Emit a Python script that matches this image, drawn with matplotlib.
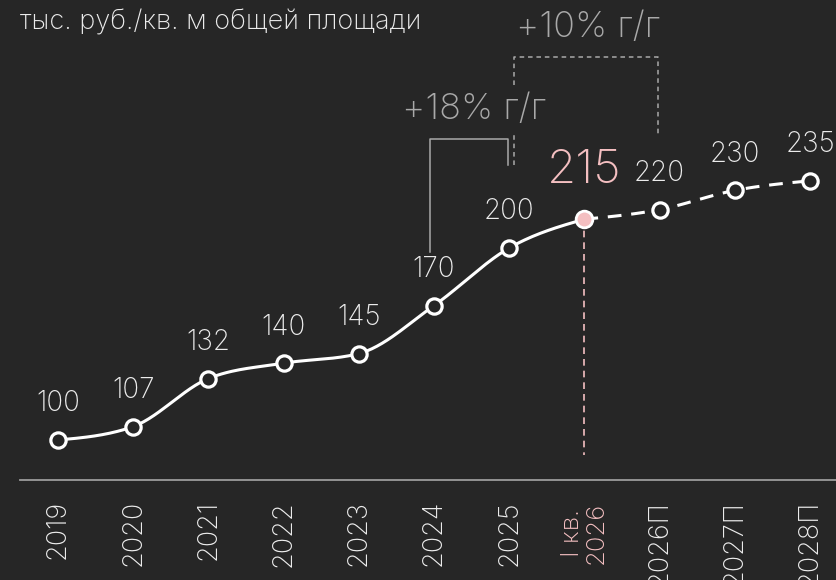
import numpy as np
import matplotlib
matplotlib.use("Agg")
import matplotlib.pyplot as plt

# data
labels = ["2019", "2020", "2021", "2022", "2023", "2024", "2025",
          "I кв.\n2026", "2026П", "2027П", "2028П"]
values = [100, 107, 132, 140, 145, 170, 200, 215, 220, 230, 235]
fact_end = 7          # index of "I кв. 2026" - last actual point
growth_labels = ["+18% г/г", "+10% г/г"]
subtitle = "тыс. руб./кв. м общей площади"

BG = "#262626"
FG = "#ececec"
GREY = "#a9a9a9"
PINK = "#f4bfc1"
FONT = ["Inter", "DejaVu Sans"]

plt.rcParams["font.family"] = FONT
plt.rcParams["font.weight"] = "light"


def monotone(xs, ys, n=30):
    # monotone cubic (like d3 curveMonotoneX)
    xs = np.asarray(xs, float)
    ys = np.asarray(ys, float)
    h = np.diff(xs)
    s = np.diff(ys) / h
    m = np.zeros(len(xs))
    for i in range(1, len(xs) - 1):
        p = (s[i - 1] * h[i] + s[i] * h[i - 1]) / (h[i - 1] + h[i])
        m[i] = (np.sign(s[i - 1]) + np.sign(s[i])) * min(abs(s[i - 1]), abs(s[i]), 0.5 * abs(p))
    m[0] = (3 * s[0] - m[1]) / 2
    m[-1] = (3 * s[-1] - m[-2]) / 2
    px, py = [], []
    for i in range(len(xs) - 1):
        t = np.linspace(0, 1, n)
        h00 = 2 * t**3 - 3 * t**2 + 1
        h10 = t**3 - 2 * t**2 + t
        h01 = -2 * t**3 + 3 * t**2
        h11 = t**3 - t**2
        px.extend(xs[i] + t * h[i])
        py.extend(h00 * ys[i] + h10 * h[i] * m[i] + h01 * ys[i + 1] + h11 * h[i] * m[i + 1])
    return np.array(px), np.array(py)


fig = plt.figure(figsize=(8.36, 5.8), dpi=100, facecolor=BG)
ax = fig.add_axes([0, 0, 1, 1], facecolor=BG)
ax.set_xlim(-0.771, 10.346)
ax.set_ylim(27.08, 329.17)
ax.axis("off")

idx = np.arange(len(values))

# curves
cx, cy = monotone(idx[:fact_end + 1], values[:fact_end + 1])
ax.plot(cx, cy, color="white", lw=2.2, solid_capstyle="round", zorder=3)
dx, dy = monotone(idx[fact_end:], values[fact_end:])
ax.plot(dx, dy, color="white", lw=2.2, dashes=(4.5, 3.2), zorder=3)

# pink guide from Q1 2026 point
ax.plot([fact_end, fact_end], [values[fact_end], 92.2], color=PINK, lw=1.2,
        dashes=(4, 3), zorder=2)

# baseline
ax.axhline(y=79.2, color="#9c9c9c", lw=1.3, xmin=0.024, xmax=1)

# markers
for i, v in enumerate(values):
    if i == fact_end:
        ax.plot(i, v, "o", ms=12, mfc=PINK, mec="white", mew=2, zorder=5)
    else:
        ax.plot(i, v, "o", ms=11, mfc=BG, mec="white", mew=2.3, zorder=5)

# value labels
for i, v in enumerate(values):
    if i == fact_end:
        ax.annotate(str(v), (i, v), xytext=(0, 35), textcoords="offset points",
                    ha="center", va="center", fontsize=34, color=PINK)
    else:
        ax.annotate(str(v), (i, v), xytext=(0, 26), textcoords="offset points",
                    ha="center", va="center", fontsize=20, color=FG)

# x labels
for i, lab in enumerate(labels):
    col = PINK if i == fact_end else FG
    if i == fact_end:
        ax.text(i, 51.6, lab, rotation=90, ha="center", va="center",
                multialignment="center", fontsize=18.5, color=col, linespacing=1.0)
    else:
        ax.text(i, 68.7, lab, rotation=90, ha="center", va="top",
                fontsize=19.5, color=col)

# +18% bracket (2024 -> 2025), solid
ax.plot([4.95, 4.95, 5.99, 5.99], [198, 256.8, 256.8, 243.2],
        color=GREY, lw=1.1, zorder=1)
# +10% bracket (2025 -> 2026П), dashed, left leg broken around the +18% label
ax.plot([6.06, 6.06], [243.2, 258.9], color=GREY, lw=1.1, dashes=(3, 2.5))
ax.plot([6.06, 6.06, 7.98, 7.98], [284.9, 299.5, 299.5, 259.4],
        color=GREY, lw=1.1, dashes=(3, 2.5), zorder=1)

ax.text(5.53, 271.9, growth_labels[0], ha="center", va="center", fontsize=26,
        color=GREY, zorder=4)
ax.text(7.05, 314.6, growth_labels[1], ha="center", va="center", fontsize=26,
        color=GREY, zorder=4)

fig.text(20 / 836, 1 - 22 / 580, subtitle, ha="left", va="center",
         fontsize=19.5, color=FG)

fig.savefig("out.png", dpi=100, facecolor=BG)
